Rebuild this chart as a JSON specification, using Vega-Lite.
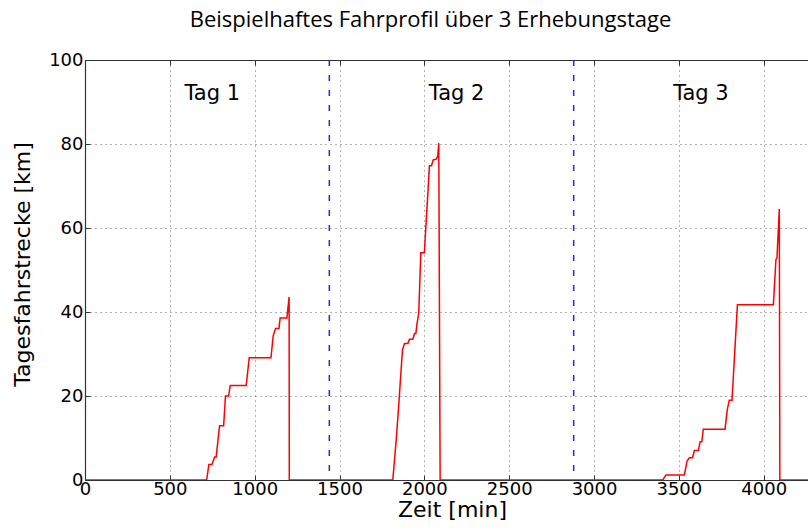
{
  "$schema": "https://vega.github.io/schema/vega-lite/v6.json",
  "width": 723,
  "height": 420,
  "autosize": "none",
  "padding": {"left": 85, "top": 60, "right": 0, "bottom": 49},
  "background": "white",
  "config": {"view": {"stroke": null}, "font": "DejaVu Sans"},
  "title": {"text": "Beispielhaftes Fahrprofil über 3 Erhebungstage", "font": "Open Sans", "fontSize": 22, "fontWeight": "normal", "color": "#000", "anchor": "middle", "frame": "group", "dx": -16, "baseline": "alphabetic", "offset": 2},
  "datasets": {
    "profile": [
      {"i": 1, "t": 0, "km": 0}, {"i": 2, "t": 717, "km": 0}, {"i": 3, "t": 730, "km": 3.7}, {"i": 4, "t": 748, "km": 3.7},
      {"i": 5, "t": 764, "km": 5.5}, {"i": 6, "t": 773, "km": 5.5}, {"i": 7, "t": 793, "km": 12.9}, {"i": 8, "t": 817, "km": 12.9},
      {"i": 9, "t": 828, "km": 20.0}, {"i": 10, "t": 846, "km": 20.0}, {"i": 11, "t": 856, "km": 22.5}, {"i": 12, "t": 950, "km": 22.5},
      {"i": 13, "t": 968, "km": 29.1}, {"i": 14, "t": 1096, "km": 29.1}, {"i": 15, "t": 1109, "km": 34.3}, {"i": 16, "t": 1123, "km": 36.1},
      {"i": 17, "t": 1143, "km": 36.1}, {"i": 18, "t": 1150, "km": 38.6}, {"i": 19, "t": 1190, "km": 38.6}, {"i": 20, "t": 1203, "km": 43.6},
      {"i": 21, "t": 1204, "km": 0},
      {"i": 22, "t": 1814, "km": 0}, {"i": 23, "t": 1834, "km": 9.5}, {"i": 24, "t": 1847, "km": 16.7}, {"i": 25, "t": 1871, "km": 31.0},
      {"i": 26, "t": 1883, "km": 32.5}, {"i": 27, "t": 1903, "km": 32.5}, {"i": 28, "t": 1912, "km": 33.5}, {"i": 29, "t": 1932, "km": 33.5},
      {"i": 30, "t": 1942, "km": 34.9}, {"i": 31, "t": 1950, "km": 34.9}, {"i": 32, "t": 1956, "km": 37.0}, {"i": 33, "t": 1967, "km": 39.8},
      {"i": 34, "t": 1979, "km": 54.1}, {"i": 35, "t": 2000, "km": 54.1}, {"i": 36, "t": 2030, "km": 74.8}, {"i": 37, "t": 2042, "km": 74.8},
      {"i": 38, "t": 2052, "km": 76.2}, {"i": 39, "t": 2070, "km": 76.4}, {"i": 40, "t": 2079, "km": 77.1}, {"i": 41, "t": 2085, "km": 80.2},
      {"i": 42, "t": 2093, "km": 0},
      {"i": 43, "t": 3405, "km": 0}, {"i": 44, "t": 3424, "km": 1.2}, {"i": 45, "t": 3532, "km": 1.2}, {"i": 46, "t": 3542, "km": 3.2},
      {"i": 47, "t": 3548, "km": 4.5}, {"i": 48, "t": 3562, "km": 5.3}, {"i": 49, "t": 3581, "km": 5.3}, {"i": 50, "t": 3591, "km": 7.0},
      {"i": 51, "t": 3615, "km": 7.0}, {"i": 52, "t": 3625, "km": 9.1}, {"i": 53, "t": 3635, "km": 9.1}, {"i": 54, "t": 3644, "km": 12.1},
      {"i": 55, "t": 3772, "km": 12.1}, {"i": 56, "t": 3785, "km": 16.7}, {"i": 57, "t": 3797, "km": 19.0}, {"i": 58, "t": 3813, "km": 19.0},
      {"i": 59, "t": 3845, "km": 41.7}, {"i": 60, "t": 4057, "km": 41.7}, {"i": 61, "t": 4072, "km": 52.5}, {"i": 62, "t": 4078, "km": 52.8},
      {"i": 63, "t": 4092, "km": 64.5}, {"i": 64, "t": 4095, "km": 0}, {"i": 65, "t": 4320, "km": 0}
    ],
    "days": [{"t": 1440}, {"t": 2880}],
    "labels": [{"t": 750, "km": 92, "label": "Tag 1"}, {"t": 2190, "km": 92, "label": "Tag 2"}, {"t": 3630, "km": 92, "label": "Tag 3"}]
  },
  "resolve": {"axis": {"x": "independent"}},
  "layer": [
    {
      "data": {"name": "profile"},
      "mark": {"type": "line", "color": "#ff0000", "strokeWidth": 1.5, "clip": true},
      "encoding": {
        "x": {"field": "t", "type": "quantitative", "scale": {"domain": [0, 4261], "nice": false, "zero": false},
          "axis": {"title": "Zeit [min]", "format": "d", "values": [0, 500, 1000, 1500, 2000, 2500, 3000, 3500, 4000], "grid": true, "gridDash": [1, 4], "gridColor": "#000", "gridOpacity": 0.6,
            "tickSize": -5, "tickColor": "#333", "domainColor": "#333", "domainWidth": 1.2, "labelFontSize": 18, "labelFont": "DejaVu Sans", "labelColor": "#000", "labelPadding": 5,
            "labelFlush": false, "labelOverlap": false, "titleFontSize": 22, "titleFont": "DejaVu Sans", "titleFontWeight": "normal", "titleColor": "#000", "titlePadding": 1, "titleX": 367}},
        "y": {"field": "km", "type": "quantitative", "scale": {"domain": [0, 100], "nice": false},
          "axis": {"title": "Tagesfahrstrecke [km]", "format": "d", "values": [0, 20, 40, 60, 80, 100], "grid": true, "gridDash": [1, 4], "gridColor": "#000", "gridOpacity": 0.6,
            "tickSize": -5, "tickColor": "#333", "domainColor": "#333", "domainWidth": 1.2, "labelFontSize": 18, "labelFont": "DejaVu Sans", "labelColor": "#000", "labelPadding": 7,
            "labelFlush": false, "labelOverlap": false, "titleFontSize": 22, "titleFont": "DejaVu Sans", "titleFontWeight": "normal", "titleColor": "#000", "titlePadding": 14, "titleY": 204}},
        "order": {"field": "i", "type": "quantitative"}
      }
    },
    {
      "data": {"name": "days"},
      "mark": {"type": "rule", "color": "#2222ff", "strokeDash": [6, 9], "strokeWidth": 1.5},
      "encoding": {
        "x": {"field": "t", "type": "quantitative", "axis": {"orient": "top", "title": null, "labels": false, "grid": false, "values": [0, 500, 1000, 1500, 2000, 2500, 3000, 3500, 4000], "tickSize": -5, "tickColor": "#333", "domainColor": "#333", "domainWidth": 1.2}}
      }
    },
    {
      "data": {"name": "labels"},
      "mark": {"type": "text", "fontSize": 21, "font": "DejaVu Sans", "color": "#000", "baseline": "middle"},
      "encoding": {
        "x": {"field": "t", "type": "quantitative", "axis": null},
        "y": {"field": "km", "type": "quantitative"},
        "text": {"field": "label"}
      }
    }
  ]
}
